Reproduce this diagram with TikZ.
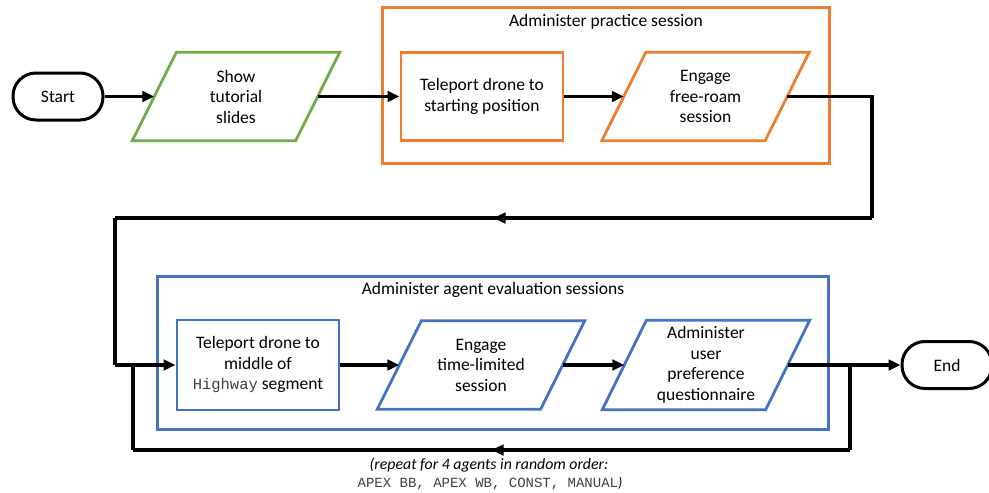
\documentclass[tikz,border=0pt]{standalone}
\usepackage{fontspec}
\setmainfont{Carlito}
\setmonofont{Liberation Mono}
\usetikzlibrary{arrows.meta,decorations.markings}

\definecolor{flowgreen}{RGB}{112,173,71}
\definecolor{floworange}{RGB}{237,125,49}
\definecolor{flowblue}{RGB}{68,114,196}

\tikzset{
  txt/.style={font=\fontsize{17.5}{20.5}\selectfont, align=center, inner sep=0pt},
  terminal/.style={txt, draw=black, line width=3pt, rounded corners=23pt,
    minimum width=90pt, minimum height=47pt},
  procbox/.style={txt, draw, line width=2.8pt, minimum width=162pt, minimum height=88pt},
  iobox/.style={txt, minimum width=163pt, minimum height=88pt},
  groupbox/.style={draw, line width=3pt},
  flow/.style={line width=3.2pt, -{Triangle[length=12pt,width=10.5pt]}},
  wire/.style={line width=3.2pt},
  midarrow/.style={line width=3.2pt, postaction={decorate}, decoration={markings,
    mark=at position 0.5 with {\arrow{Triangle[length=12pt,width=10.5pt]}}}},
}

% slanted input/output box drawn around a named node
\newcommand\slantbox[2]{%
  \draw[#2, line width=2.8pt, line join=miter]
    ([xshift=22pt]#1.north west) -- ([xshift=22pt]#1.north east) --
    ([xshift=-22pt]#1.south east) -- ([xshift=-22pt]#1.south west) -- cycle;}

\begin{document}
\begin{tikzpicture}[x=1pt, y=-1pt]
\useasboundingbox (0,0) rectangle (989,493);

% group frames
\draw[groupbox, floworange] (382.5,7.5) rectangle (829.5,163.5);
\node[txt] (practice) at (606,22) {Administer practice session};
\draw[groupbox, flowblue] (157.5,276.5) rectangle (828.5,429.5);
\node[txt] (evaluation) at (493,290) {Administer agent evaluation sessions};

% top row
\node[terminal] (start) at (58,96.5) {Start};
\node[iobox] (slides) at (236,96.5) {Show\\tutorial\\slides};
\slantbox{slides}{flowgreen}
\node[procbox, draw=floworange] (tp1) at (482,96.5) {Teleport drone to\\starting position};
\node[iobox] (roam) at (705.5,96.5) {Engage\\free-roam\\session};
\slantbox{roam}{floworange}

% bottom row
\node[procbox, draw=flowblue, minimum height=90pt] (tp2) at (258,365)
  {Teleport drone to\\middle of\\{\fontsize{15.5}{20}\selectfont\ttfamily\color{black!75}Highway} segment};
\node[iobox] (timed) at (481,365) {Engage\\time-limited\\session};
\slantbox{timed}{flowblue}
\node[iobox, minimum height=89pt] (quest) at (706,365) {Administer\\user\\preference\\questionnaire};
\slantbox{quest}{flowblue}
\node[terminal] (end) at (947,365) {End};

% routing points
\coordinate (r1) at (872,218);
\coordinate (l1) at (115,218);
\coordinate (l2) at (115,365);
\coordinate (jr) at (850,365);
\coordinate (jrb) at (850,450);
\coordinate (jlb) at (133,450);
\coordinate (jl) at (133,365);

% connectors
\draw[flow] (start.east) -- (slides.west);
\draw[flow] (slides.east) -- (tp1.west);
\draw[flow] (tp1.east) -- (roam.west);
\draw[wire] (roam.east) -| (r1);
\draw[midarrow] (r1) -- (l1);
\draw[wire] (l1) -- (l2);
\draw[flow] (l2) -- (tp2.west);
\draw[flow] (tp2.east) -- (timed.west);
\draw[flow] (timed.east) -- (quest.west);
\draw[flow] (quest.east) -- (end.west);

% repeat loop
\draw[wire] (jr) -- (jrb);
\draw[midarrow] (jrb) -- (jlb);
\draw[wire] (jlb) -- (jl);

\node[font=\fontsize{15.8}{19}\selectfont\itshape, inner sep=0pt] (note1) at (489,465)
  {(repeat for 4 agents in random order:};
\node[font=\fontsize{14}{17}\selectfont, inner sep=0pt] (note2) at (490,484)
  {{\ttfamily\color{black!75}APEX BB, APEX WB, CONST, MANUAL}\textit{)}};
\end{tikzpicture}
\end{document}
